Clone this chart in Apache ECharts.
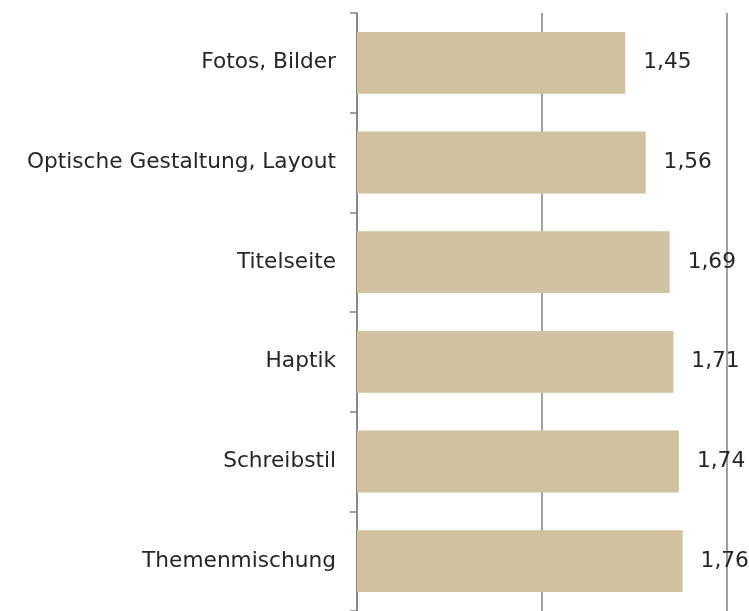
<!DOCTYPE html>
<html>
<head>
<meta charset="utf-8">
<script src="https://cdn.jsdelivr.net/npm/echarts@6/dist/echarts.min.js"></script>
<style>
  * { margin: 0; padding: 0; }
  body { background: #fff; }
  #chart1 { width: 749px; height: 611px; }
</style>
</head>
<body>
<div id="chart1"></div>
<script>
var categories = ['Fotos, Bilder', 'Optische Gestaltung, Layout', 'Titelseite', 'Haptik', 'Schreibstil', 'Themenmischung'];
var scores = [1.45, 1.56, 1.69, 1.71, 1.74, 1.76];

var chart = echarts.init(document.getElementById('chart1'));
var option = {
  animation: false,
  grid: {
    left: 357,
    width: 370,
    top: 13,
    height: 601
  },
  xAxis: {
    type: 'value',
    min: 0,
    max: 2,
    interval: 1,
    axisLine: { show: false },
    axisTick: { show: false },
    axisLabel: { show: false },
    splitLine: {
      show: true,
      lineStyle: { color: '#808080', width: 1.5 }
    }
  },
  yAxis: {
    type: 'category',
    inverse: true,
    data: categories,
    axisLine: {
      show: true,
      lineStyle: { color: '#808080', width: 1.5 }
    },
    axisTick: {
      show: true,
      length: 7,
      lineStyle: { color: '#808080', width: 1.5 }
    },
    axisLabel: {
      margin: 21,
      color: '#262626',
      fontFamily: 'DejaVu Sans',
      fontSize: 21.7
    }
  },
  series: [{
    type: 'bar',
    data: scores,
    barCategoryGap: '38%',
    itemStyle: { color: '#d1c19f' },
    label: {
      show: true,
      position: 'right',
      distance: 18,
      color: '#262626',
      fontFamily: 'DejaVu Sans',
      fontSize: 21.7,
      formatter: function (p) {
        return p.value.toFixed(2).replace('.', ',');
      }
    }
  }]
};
chart.setOption(option);
</script>
</body>
</html>
